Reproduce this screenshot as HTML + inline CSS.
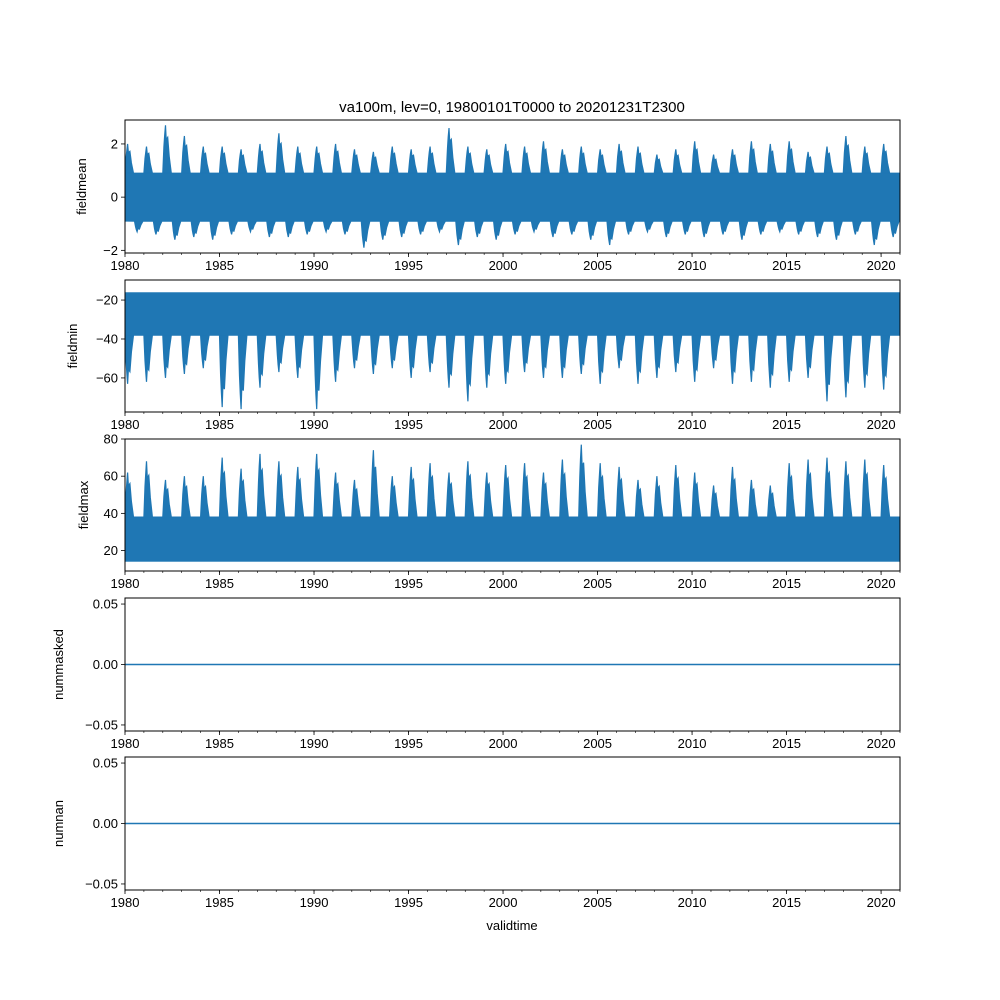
<!DOCTYPE html>
<html><head><meta charset="utf-8"><style>
body{margin:0;background:#fff}
svg{display:block;font-family:"Liberation Sans","DejaVu Sans",sans-serif}
</style></head><body>
<svg id="chart" width="1000" height="1000">
<text x="512" y="112" text-anchor="middle" font-size="15">va100m, lev=0, 19800101T0000 to 20201231T2300</text>
<text x="512" y="930" text-anchor="middle" font-size="13">validtime</text>
</svg>
<script>
const years=[];for(let y=1980;y<=2020;y++)years.push(y);
const xTicks=[1980,1985,1990,1995,2000,2005,2010,2015,2020];
const meanMax=[2.0,1.9,2.7,2.3,1.9,1.9,1.8,2.0,2.4,1.9,1.9,2.0,1.8,1.7,1.9,1.8,1.9,2.6,1.9,1.8,2.0,1.9,2.1,1.8,1.9,1.8,2.0,1.9,1.6,1.8,2.1,1.6,1.8,2.1,2.0,2.1,1.7,1.9,2.3,1.9,2.0];
const meanMin=[-1.3,-1.4,-1.6,-1.5,-1.6,-1.4,-1.3,-1.5,-1.5,-1.4,-1.3,-1.4,-1.9,-1.6,-1.5,-1.4,-1.3,-1.8,-1.5,-1.6,-1.4,-1.3,-1.5,-1.4,-1.6,-1.8,-1.4,-1.3,-1.5,-1.4,-1.5,-1.4,-1.6,-1.4,-1.3,-1.4,-1.5,-1.6,-1.4,-1.8,-1.5];
const minMin=[-63,-62,-60,-58,-55,-75,-76,-65,-57,-60,-76,-62,-55,-58,-55,-60,-57,-65,-72,-65,-63,-57,-60,-60,-58,-63,-55,-63,-60,-57,-62,-55,-63,-62,-65,-62,-60,-72,-70,-65,-66];
const maxMax=[62,68,58,60,60,70,64,72,68,65,72,62,58,74,60,65,67,62,68,62,66,67,62,69,77,67,65,58,60,66,62,55,65,58,55,67,69,70,68,69,66];
const panels=[
 {name:'fieldmean',top:120,bot:253,lo:-2.1,hi:2.9,ticks:[-2,0,2],fmt:v=>v.toString().replace('-','−'),core:[-0.9,0.9],ext:meanMax,ext2:meanMin,ylx:86},
 {name:'fieldmin',top:280,bot:412,lo:-77.5,hi:-9.7,ticks:[-60,-40,-20],fmt:v=>v.toString().replace('-','−'),core:[-38,-16],ext:minMin,ylx:77},
 {name:'fieldmax',top:439,bot:571,lo:9,hi:80,ticks:[20,40,60,80],fmt:v=>v.toString(),core:[14,38],ext:maxMax,ylx:88},
 {name:'nummasked',top:598,bot:731,lo:-0.055,hi:0.055,ticks:[-0.05,0,0.05],fmt:v=>v.toFixed(2).replace('-','−'),flat:true,ylx:63},
 {name:'numnan',top:757,bot:890,lo:-0.055,hi:0.055,ticks:[-0.05,0,0.05],fmt:v=>v.toFixed(2).replace('-','−'),flat:true,ylx:63}
];
const L=125,R=900,X0=1980,X1=2021,C='#1f77b4';
const svg=document.getElementById('chart');const NS='http://www.w3.org/2000/svg';
const sx=t=>L+(t-X0)/(X1-X0)*(R-L);
function mk(tag,attrs,parent){const e=document.createElementNS(NS,tag);for(const k in attrs)e.setAttribute(k,attrs[k]);(parent||svg).appendChild(e);return e;}
function envPath(sy,base,vals,off){
 let d='M'+sx(X0)+','+sy(base);
 years.forEach((y,i)=>{
  const m=vals[i],c=base;
  const pts=[[y+off,c],[y+off+0.06,c+(m-c)*0.55],[y+off+0.1,c+(m-c)*0.8],[y+off+0.14,m],[y+off+0.18,c+(m-c)*0.7],[y+off+0.26,c+(m-c)*0.75],[y+off+0.34,c+(m-c)*0.35],[y+off+0.45,c]];
  pts.forEach(q=>{d+=' L'+sx(q[0]).toFixed(1)+','+sy(q[1]).toFixed(1);});
 });
 d+=' L'+sx(X1)+','+sy(base)+' Z';return d;
}
panels.forEach(p=>{
 const sy=v=>p.bot-(v-p.lo)/(p.hi-p.lo)*(p.bot-p.top);
 const g=mk('g',{});
 
 
 const clip=mk('clipPath',{id:'c'+p.name},g);mk('rect',{x:L,y:p.top,width:R-L,height:p.bot-p.top},clip);
 const dg=mk('g',{'clip-path':'url(#c'+p.name+')'},g);
 if(p.flat){
  const l=mk('line',{x1:L,x2:R,y1:sy(0),y2:sy(0),stroke:C,'stroke-width':1.5},dg);
  
  
 }else{
  const r=mk('rect',{x:L,width:R-L,y:sy(p.core[1]),height:sy(p.core[0])-sy(p.core[1]),fill:C},dg);
  
  
  const up=p.ext[0]>p.core[1];
  const e1=mk('path',{d:envPath(sy,up?p.core[1]:p.core[0],p.ext,0),fill:C,stroke:C,'stroke-width':1.2,'stroke-linejoin':'miter'},dg);
  
  
  if(p.ext2){
   const e2=mk('path',{d:envPath(sy,p.core[0],p.ext2,0.5),fill:C,stroke:C,'stroke-width':1.2},dg);
   
   
  }
 }
 const fr=mk('rect',{x:L,y:p.top,width:R-L,height:p.bot-p.top,fill:'none',stroke:'#000','stroke-width':1},g);
 
 
 years.concat([2021]).forEach(y=>{mk('line',{x1:sx(y),x2:sx(y),y1:p.bot,y2:p.bot+2,stroke:'#000','stroke-width':0.6},g);});
 xTicks.forEach(t=>{
  mk('line',{x1:sx(t),x2:sx(t),y1:p.bot,y2:p.bot+4,stroke:'#000','stroke-width':0.8},g);
  const tx=mk('text',{x:sx(t),y:p.bot+17,'text-anchor':'middle','font-size':13},g);tx.textContent=t;
  
  
 });
 p.ticks.forEach(t=>{
  mk('line',{x1:L-4,x2:L,y1:sy(t),y2:sy(t),stroke:'#000','stroke-width':0.8},g);
  const tx=mk('text',{x:L-7,y:sy(t)+4.5,'text-anchor':'end','font-size':13},g);tx.textContent=p.fmt(t);
  
  
 });
 const cy=(p.top+p.bot)/2;
 const yl=mk('text',{x:p.ylx,y:cy,'text-anchor':'middle','font-size':13,transform:'rotate(-90 '+p.ylx+' '+cy+')'},g);yl.textContent=p.name;
 
 
});
</script>
</body></html>
